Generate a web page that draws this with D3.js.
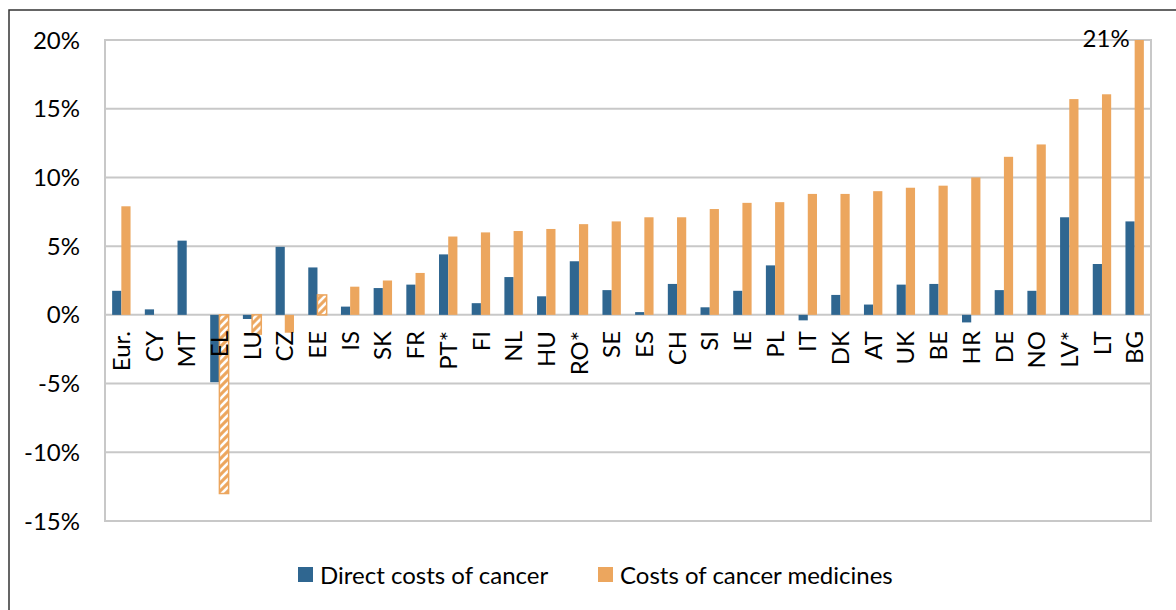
<!DOCTYPE html>
<html>
<head>
<meta charset="utf-8">
<script src="https://cdnjs.cloudflare.com/ajax/libs/d3/7.8.5/d3.min.js"></script>
<style>
  body { margin: 0; background: #fff; }
  text { font-family: "Lato", "Open Sans", sans-serif; fill: #000; }
</style>
</head>
<body>
<script>

var width = 1176, height = 610;

// values, growth in %
var categories = ["Eur.","CY","MT","EL","LU","CZ","EE","IS","SK","FR","PT*","FI","NL","HU","RO*","SE",
                  "ES","CH","SI","IE","PL","IT","DK","AT","UK","BE","HR","DE","NO","LV*","LT","BG"];
var directCosts = [1.75,0.4,5.4,-4.9,-0.3,4.95,3.45,0.6,1.95,2.2,4.4,0.85,2.75,1.35,3.9,1.8,
                   0.2,2.25,0.55,1.75,3.6,-0.4,1.45,0.75,2.2,2.25,-0.55,1.8,1.75,7.1,3.7,6.8];
var medicineCosts = [7.9,0,0,-13.0,-1.4,-1.3,1.45,2.05,2.5,3.05,5.7,6.0,6.1,6.25,6.6,6.8,
                     7.1,7.1,7.7,8.15,8.2,8.8,8.8,9.0,9.25,9.4,10.0,11.5,12.4,15.7,16.05,21];
var hatchedCats = ["EL","LU","EE"];
var yTicks = [-15,-10,-5,0,5,10,15,20];
var seriesNames = ["Direct costs of cancer","Costs of cancer medicines"];

var blue = "#2f6690", orange = "#eca65e", grid = "#c8c8c8";
var plot = {left: 105, right: 1151, top: 40, bottom: 521};

var svg = d3.select("body").append("svg")
    .attr("width", width)
    .attr("height", height);

// hatch for the orange bars that are marked
var defs = svg.append("defs");
var pat = defs.append("pattern")
    .attr("id", "hatch")
    .attr("patternUnits", "userSpaceOnUse")
    .attr("width", 8).attr("height", 8);
pat.append("rect").attr("width", 8).attr("height", 8).attr("fill", orange);
pat.append("path")
    .attr("d", "M-2,2 L2,-2 M0,8 L8,0 M6,10 L10,6")
    .attr("stroke", "#fff").attr("stroke-width", 2.6);

// outer frame (runs off the right and bottom edges)
svg.append("rect")
    .attr("x", 9).attr("y", 10)
    .attr("width", width + 20).attr("height", height + 20)
    .attr("fill", "none").attr("stroke", "#333").attr("stroke-width", 1.5);

var y = d3.scaleLinear().domain([-15, 20]).range([plot.bottom, plot.top]).clamp(true);

var x0 = d3.scaleBand().domain(categories).range([plot.left, plot.right]).padding(0);
var x1 = d3.scaleBand().domain([0, 1]).range([0, x0.bandwidth()]).paddingInner(0).paddingOuter(0.776);

// grid
svg.append("g").selectAll("line")
    .data(yTicks)
    .enter().append("line")
    .attr("x1", plot.left).attr("x2", plot.right)
    .attr("y1", function (d) { return y(d); })
    .attr("y2", function (d) { return y(d); })
    .attr("stroke", grid).attr("stroke-width", 2);

svg.append("rect")
    .attr("x", plot.left).attr("y", plot.top)
    .attr("width", plot.right - plot.left).attr("height", plot.bottom - plot.top)
    .attr("fill", "none").attr("stroke", grid).attr("stroke-width", 2);

// y axis labels
svg.append("g").selectAll("text")
    .data(yTicks)
    .enter().append("text")
    .attr("x", 80)
    .attr("y", function (d) { return y(d); })
    .attr("dy", "0.36em")
    .attr("text-anchor", "end")
    .style("font-size", "24px")
    .text(function (d) { return d + "%"; });

// bars
var rows = categories.map(function (c, i) {
    return {cat: c, vals: [directCosts[i], medicineCosts[i]]};
});

var groups = svg.append("g").selectAll("g")
    .data(rows)
    .enter().append("g")
    .attr("transform", function (d) { return "translate(" + x0(d.cat) + ",0)"; });

groups.selectAll("rect")
    .data(function (d) {
        return d.vals.map(function (v, k) {
            return {k: k, v: v, hatch: k === 1 && hatchedCats.indexOf(d.cat) >= 0};
        });
    })
    .enter().append("rect")
    .attr("x", function (d) { return x1(d.k); })
    .attr("width", x1.bandwidth())
    .attr("y", function (d) { return Math.min(y(d.v), y(0)); })
    .attr("height", function (d) { return Math.abs(y(d.v) - y(0)); })
    .attr("fill", function (d) { return d.hatch ? "url(#hatch)" : (d.k === 0 ? blue : orange); })
    .attr("stroke", function (d) { return d.hatch ? orange : "none"; })
    .attr("stroke-width", 1.5);

// category labels, rotated
svg.append("g").selectAll("text")
    .data(categories)
    .enter().append("text")
    .attr("transform", function (d) {
        return "translate(" + (x0(d) + x0.bandwidth() / 2) + ",331) rotate(-90)";
    })
    .attr("dy", "0.36em")
    .attr("text-anchor", "end")
    .style("font-size", "24px")
    .text(function (d) { return d; });

// label for the clipped bar
var last = categories.length - 1;
svg.append("text")
    .attr("x", x0(categories[last]) + x1(1) - 5)
    .attr("y", y(20) + 7)
    .attr("text-anchor", "end")
    .style("font-size", "24px")
    .text(medicineCosts[last] + "%");

// legend
var legendX = [298, 598];
var legend = svg.append("g").selectAll("g")
    .data(seriesNames)
    .enter().append("g")
    .attr("transform", function (d, i) { return "translate(" + legendX[i] + ",567)"; });
legend.append("rect")
    .attr("width", 15).attr("height", 15)
    .attr("fill", function (d, i) { return i === 0 ? blue : orange; });
legend.append("text")
    .attr("x", 22).attr("y", 8).attr("dy", "0.36em")
    .style("font-size", "24px")
    .text(function (d) { return d; });

</script>
</body>
</html>
